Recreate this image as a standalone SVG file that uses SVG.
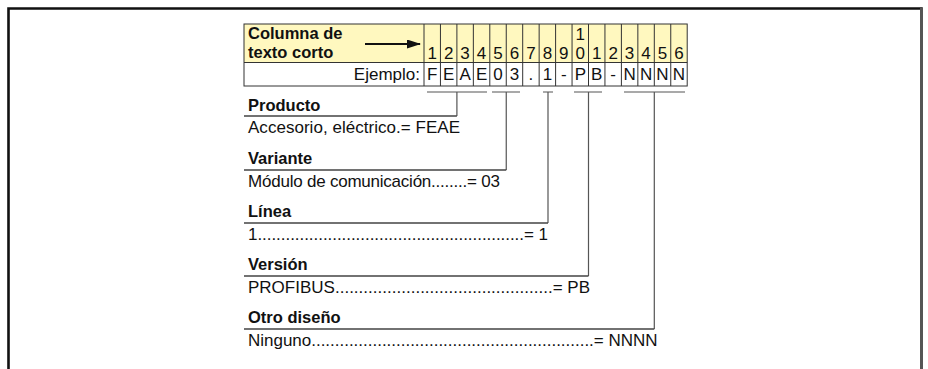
<svg xmlns="http://www.w3.org/2000/svg" width="928" height="369" viewBox="0 0 928 369">
<style>
text{font-family:"Liberation Sans",Arial,sans-serif;fill:#111}
.b{font-weight:bold;font-size:16.5px}
.r{font-size:17px}
.c{font-size:17px;text-anchor:middle}
.grid{stroke:#333;stroke-width:1;fill:none}
.br{stroke:#555;stroke-width:1.2;fill:none}
.ul{stroke:#444;stroke-width:1.4;fill:none}
</style>
<defs>
<marker id="ah" viewBox="0 0 14 9" refX="13" refY="4.5" markerWidth="14" markerHeight="9" markerUnits="userSpaceOnUse" orient="auto"><path d="M0,0L14,4.5L0,9z" fill="#111"/></marker>
</defs>
<g id="frame">
<path d="M8.5,369V8.5H921.5V369" fill="none" stroke="#111" stroke-width="2.6"/>
<line x1="921.5" y1="8" x2="921.5" y2="369" stroke="#555" stroke-width="3"/>
</g>
<g id="table">
<rect x="244" y="24" width="443.2" height="38.5" fill="#fff8bf"/>
<rect x="244" y="62.5" width="443.2" height="23.5" fill="#fff"/>
<rect x="244" y="24" width="443.2" height="62" class="grid" stroke-width="1.4"/>
<line x1="244" y1="62.5" x2="687.2" y2="62.5" class="grid"/>
<path class="grid" d="M424,24V86M440.45,24V86M456.9,24V86M473.35,24V86M489.8,24V86M506.25,24V86M522.7,24V86M539.15,24V86M555.6,24V86M572.05,24V86M588.5,24V86M604.95,24V86M621.4,24V86M637.85,24V86M654.3,24V86M670.75,24V86"/>
<text class="b" x="248" y="38.5">Columna de</text>
<text class="b" x="248" y="57.5">texto corto</text>
<line x1="365" y1="44" x2="420" y2="44" stroke="#111" stroke-width="2" marker-end="url(#ah)"/>
<text class="r" x="420" y="80" text-anchor="end">Ejemplo:</text>
<g class="digits">
<text class="c" x="580.3" y="40">1</text>
<text class="c" x="432.2" y="59">1</text>
<text class="c" x="448.7" y="59">2</text>
<text class="c" x="465.1" y="59">3</text>
<text class="c" x="481.6" y="59">4</text>
<text class="c" x="498.0" y="59">5</text>
<text class="c" x="514.5" y="59">6</text>
<text class="c" x="530.9" y="59">7</text>
<text class="c" x="547.4" y="59">8</text>
<text class="c" x="563.8" y="59">9</text>
<text class="c" x="580.3" y="59">0</text>
<text class="c" x="596.7" y="59">1</text>
<text class="c" x="613.2" y="59">2</text>
<text class="c" x="629.6" y="59">3</text>
<text class="c" x="646.1" y="59">4</text>
<text class="c" x="662.5" y="59">5</text>
<text class="c" x="679.0" y="59">6</text>
</g>
<g class="example">
<text class="c" x="432.2" y="80">F</text>
<text class="c" x="448.7" y="80">E</text>
<text class="c" x="465.1" y="80">A</text>
<text class="c" x="481.6" y="80">E</text>
<text class="c" x="498.0" y="80">0</text>
<text class="c" x="514.5" y="80">3</text>
<text class="c" x="530.9" y="80">.</text>
<text class="c" x="547.4" y="80">1</text>
<text class="c" x="563.8" y="80">-</text>
<text class="c" x="580.3" y="80">P</text>
<text class="c" x="596.7" y="80">B</text>
<text class="c" x="613.2" y="80">-</text>
<text class="c" x="629.6" y="80">N</text>
<text class="c" x="646.1" y="80">N</text>
<text class="c" x="662.5" y="80">N</text>
<text class="c" x="679.0" y="80">N</text>
</g>
</g>
<g id="connectors">
<path class="br" d="M427,92H487M456.9,92V116"/>
<path class="br" d="M492,92H520M506.25,92V170"/>
<path class="br" d="M543,92H553M548,92V223"/>
<path class="br" d="M574,92H602M588.5,92V276"/>
<path class="br" d="M624,92H685M654.3,92V329"/>
<path class="ul" d="M244,116H456.9M244,170H506.25M244,223H548M244,276H588.5M244,329H654.3"/>
</g>
<g id="producto">
<text class="b" x="248" y="111">Producto</text>
<text class="r" x="248" y="133" textLength="212">Accesorio, eléctrico.= FEAE</text>
</g>
<g id="variante">
<text class="b" x="248" y="164">Variante</text>
<text class="r" x="248" y="187" textLength="252">Módulo de comunicación........= 03</text>
</g>
<g id="linea">
<text class="b" x="248" y="217">Línea</text>
<text class="r" x="248" y="240" textLength="300">1.........................................................= 1</text>
</g>
<g id="version">
<text class="b" x="248" y="270">Versión</text>
<text class="r" x="248" y="292.5" textLength="342">PROFIBUS..............................................= PB</text>
</g>
<g id="otro">
<text class="b" x="248" y="323">Otro diseño</text>
<text class="r" x="248" y="345.5" textLength="409.5">Ninguno............................................................= NNNN</text>
</g>
</svg>
